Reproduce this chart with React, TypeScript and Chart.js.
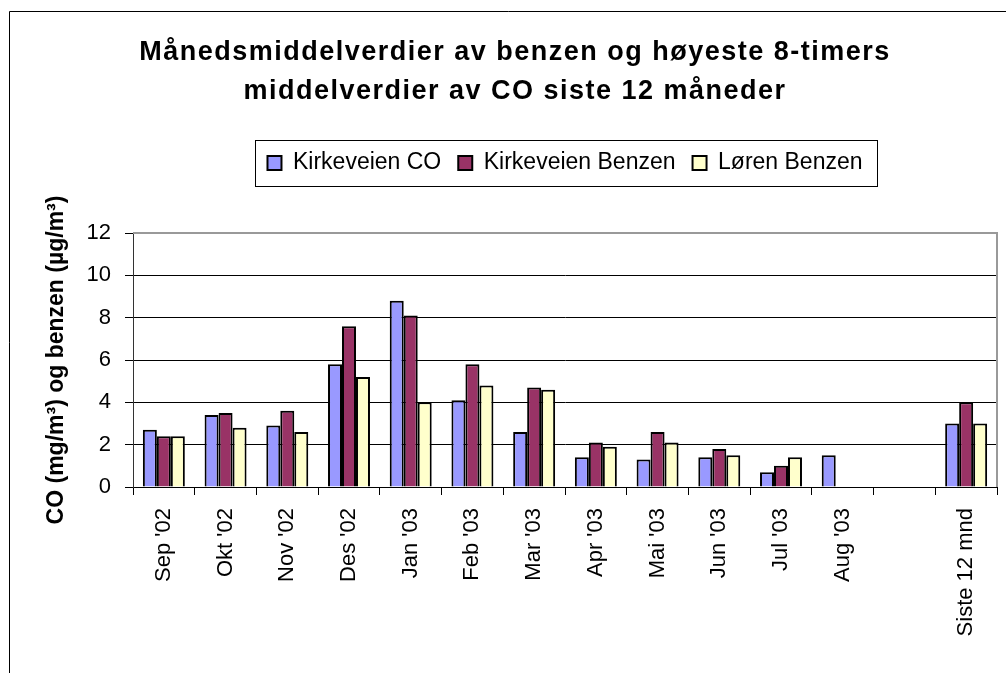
import React, { useEffect, useRef } from "react";
import { Chart, registerables } from "chart.js";

Chart.register(...registerables);

const categories: string[] = [
  "Sep '02", "Okt '02", "Nov '02", "Des '02", "Jan '03", "Feb '03", "Mar '03",
  "Apr '03", "Mai '03", "Jun '03", "Jul '03", "Aug '03", "", "Siste 12 mnd",
];
const kirkeveienCO: (number | null)[] = [2.7, 3.4, 2.9, 5.8, 8.8, 4.1, 2.6, 1.4, 1.3, 1.4, 0.7, 1.5, null, 3.0];
const kirkeveienBenzen: (number | null)[] = [2.4, 3.5, 3.6, 7.6, 8.1, 5.8, 4.7, 2.1, 2.6, 1.8, 1.0, null, null, 4.0];
const lorenBenzen: (number | null)[] = [2.4, 2.8, 2.6, 5.2, 4.0, 4.8, 4.6, 1.9, 2.1, 1.5, 1.4, null, null, 3.0];
const seriesNames: string[] = ["Kirkeveien CO", "Kirkeveien Benzen", "Løren Benzen"];
const seriesColors: string[] = ["#9999FF", "#993366", "#FFFFCC"];
const titleLines: string[] = [
  "Månedsmiddelverdier av benzen og høyeste 8-timers",
  "middelverdier av CO siste 12 måneder",
];
const yTitle = "CO (mg/m³) og benzen (µg/m³)";
const yMin = 0;
const yMax = 12;
const yStep = 2;

const FONT = "'Liberation Sans', Arial, Helvetica, sans-serif";

const decorPlugin = {
  id: "decor",
  afterInit(chart: any) {
    const lg = chart.legend;
    if (lg && !lg.__wrapped) {
      const origFit = lg.fit.bind(lg);
      lg.fit = () => {
        origFit();
        lg.height += 48.5;
      };
      lg.__wrapped = true;
    }
    const tb = chart.titleBlock;
    if (tb && !tb.__wrapped) {
      const origDraw = tb.draw.bind(tb);
      tb.draw = (...args: any[]) => {
        const ctx = chart.ctx;
        ctx.save();
        (ctx as any).letterSpacing = "1.5px";
        origDraw(...args);
        ctx.restore();
      };
      tb.__wrapped = true;
    }
  },
  beforeDraw(chart: any) {
    const ctx = chart.ctx;
    ctx.save();
    ctx.fillStyle = "#fff";
    ctx.fillRect(0, 0, chart.width, chart.height);
    ctx.strokeStyle = "#000";
    ctx.lineWidth = 1;
    ctx.beginPath();
    ctx.moveTo(9.5, chart.height + 5);
    ctx.lineTo(9.5, 11.5);
    ctx.lineTo(chart.width + 5, 11.5);
    ctx.stroke();
    ctx.restore();
  },
  afterDraw(chart: any) {
    const ctx = chart.ctx;
    const a = chart.chartArea;
    ctx.save();
    ctx.strokeStyle = "#999";
    ctx.lineWidth = 2;
    ctx.beginPath();
    ctx.moveTo(a.left, a.top);
    ctx.lineTo(a.right, a.top);
    ctx.lineTo(a.right, a.bottom);
    ctx.stroke();
    const hb = chart.legend && chart.legend.legendHitBoxes;
    if (hb && hb.length) {
      const first = hb[0];
      const last = hb[hb.length - 1];
      const mid = first.top + first.height / 2;
      const x0 = Math.round(first.left - 12) + 0.5;
      const x1 = Math.round(last.left + last.width + 14) + 0.5;
      const y0 = Math.round(mid - 23) + 0.5;
      const y1 = Math.round(mid + 23) + 0.5;
      ctx.strokeStyle = "#000";
      ctx.lineWidth = 1;
      ctx.strokeRect(x0, y0, x1 - x0, y1 - y0);
    }
    ctx.restore();
  },
};

export default function App() {
  const ref = useRef<HTMLCanvasElement | null>(null);
  useEffect(() => {
    if (!ref.current) return;
    Chart.defaults.font.family = FONT;
    Chart.defaults.color = "#000";
    const chart = new Chart(ref.current, {
      type: "bar",
      data: {
        labels: categories,
        datasets: [kirkeveienCO, kirkeveienBenzen, lorenBenzen].map((d, i) => ({
          label: seriesNames[i],
          data: d,
          backgroundColor: seriesColors[i],
          borderColor: "#000",
          borderWidth: 2,
          borderSkipped: "bottom" as const,
          categoryPercentage: 0.68,
          barPercentage: 1.0,
        })),
      },
      options: {
        responsive: false,
        animation: false,
        layout: { padding: { left: 33, right: 9, top: 0, bottom: 0 } },
        plugins: {
          title: {
            display: true,
            text: titleLines,
            color: "#000",
            font: { family: FONT, size: 27, weight: "bold", lineHeight: 39 / 27 },
            padding: { top: 33, bottom: 23.5 },
          },
          legend: {
            display: true,
            position: "top",
            fullSize: false,
            labels: {
              boxWidth: 14,
              boxHeight: 14,
              padding: 17,
              color: "#000",
              font: { family: FONT, size: 23 },
            },
          },
          tooltip: { enabled: false },
        },
        scales: {
          x: {
            grid: {
              display: true,
              drawOnChartArea: false,
              drawTicks: true,
              tickLength: 8,
              color: "#000",
              offset: true,
            },
            border: { color: "#000", width: 1 },
            ticks: {
              autoSkip: false,
              maxRotation: 90,
              minRotation: 90,
              padding: 13,
              color: "#000",
              font: { family: FONT, size: 22 },
            },
            afterFit: (s: any) => {
              s.height = 186;
            },
          },
          y: {
            min: yMin,
            max: yMax,
            ticks: {
              stepSize: yStep,
              padding: 14,
              color: "#000",
              font: { family: FONT, size: 22 },
            },
            grid: {
              color: (c: any) => (c.tick && c.tick.value === yMax ? "rgba(0,0,0,0)" : "#000"),
              tickColor: "#000",
              tickLength: 8,
              drawTicks: true,
            },
            border: { color: "#333", width: 1 },
            title: {
              display: true,
              text: yTitle,
              color: "#000",
              font: { family: FONT, size: 23, weight: "bold" },
              padding: { top: 10, bottom: 0 },
            },
            afterFit: (s: any) => {
              s.width = 100;
            },
          },
        },
      },
      plugins: [decorPlugin],
    });
    return () => chart.destroy();
  }, []);
  return (
    <div style={{ position: "absolute", left: 0, top: 0, width: 1006, height: 673 }}>
      <canvas ref={ref} width={1006} height={673} style={{ display: "block" }} />
    </div>
  );
}
